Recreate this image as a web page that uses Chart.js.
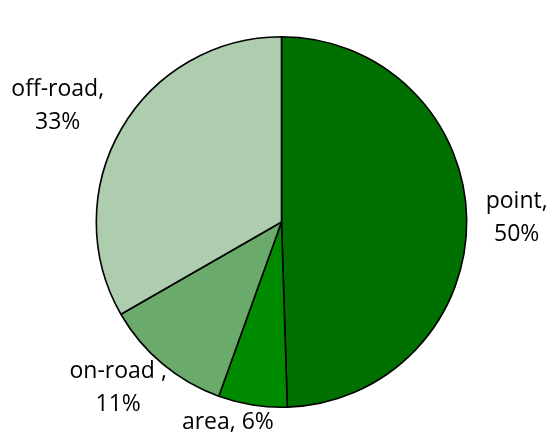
<!DOCTYPE html>
<html>
<head>
<meta charset="utf-8">
<script src="https://cdn.jsdelivr.net/npm/chart.js@4/dist/chart.umd.min.js"></script>
<style>
  html, body { margin: 0; padding: 0; background: #fff; }
  #wrap { width: 548px; height: 436px; position: relative; }
</style>
</head>
<body>
<div id="wrap"><canvas id="c" width="548" height="436"></canvas></div>
<script>
// ---- data ----
const categories = ['point', 'area', 'on-road ', 'off-road'];
const shares = [49.5, 6.0, 11.2, 33.3];
const sliceColors = ['#007000', '#008a00', '#6aaa6a', '#aecdae'];

// label layout (style only): wrap to two lines?, radial gap, angle nudge (deg)
const labelStyle = {
  wrap: [true, false, true, true],
  gap: [50, 22, 48, 67],
  nudge: [0, 6, 4.5, -2.6]
};

const labelPlugin = {
  id: 'sliceLabels',
  afterDatasetsDraw(chart) {
    const ctx = chart.ctx;
    const meta = chart.getDatasetMeta(0);
    const data = chart.data.datasets[0].data;
    const total = data.reduce((a, b) => a + b, 0);
    ctx.save();
    ctx.font = '23px "Open Sans", sans-serif';
    ctx.fillStyle = '#000';
    ctx.textAlign = 'center';
    ctx.textBaseline = 'middle';
    const lh = 33;
    meta.data.forEach((arc, i) => {
      const p = arc.getProps(['x', 'y', 'startAngle', 'endAngle', 'outerRadius'], true);
      const mid = (p.startAngle + p.endAngle) / 2 + labelStyle.nudge[i] * Math.PI / 180;
      const r = p.outerRadius + labelStyle.gap[i];
      const cx = p.x + Math.cos(mid) * r;
      const cy = p.y + Math.sin(mid) * r;
      const pct = Math.round(data[i] / total * 100) + '%';
      const name = chart.data.labels[i];
      const lines = labelStyle.wrap[i] ? [name + ',', pct] : [name + ', ' + pct];
      const y0 = cy - (lines.length - 1) * lh / 2;
      lines.forEach((t, k) => ctx.fillText(t, cx, y0 + k * lh));
    });
    ctx.restore();
  }
};

new Chart(document.getElementById('c'), {
  type: 'pie',
  data: {
    labels: categories,
    datasets: [{
      data: shares,
      backgroundColor: sliceColors,
      borderColor: '#000',
      borderWidth: 1.6
    }]
  },
  options: {
    responsive: false,
    animation: false,
    layout: { padding: { top: 36, bottom: 28, left: 15, right: 0 } },
    plugins: {
      legend: { display: false },
      tooltip: { enabled: false }
    }
  },
  plugins: [labelPlugin]
});
</script>
</body>
</html>
